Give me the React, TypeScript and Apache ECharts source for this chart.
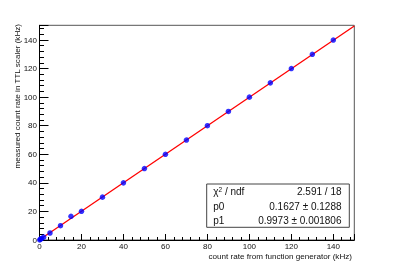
import React, { useEffect, useRef } from "react";
import * as echarts from "echarts";

const xValues = [0.1, 0.5, 1, 2, 5, 10, 15, 20, 30, 40, 50, 60, 70, 80, 90, 100, 110, 120, 130, 140];
const yValues = [0.1, 0.6, 1.1, 2, 4.9, 10, 16.6, 20.1, 30, 40, 50, 60, 70, 80, 90, 100, 110, 120, 130, 140];
const fitP0 = 0.1627;
const fitP1 = 0.9973;
const fitRange = [0, 150];
const xTitle = "count rate from function generator (kHz)";
const yTitle = "measured count rate in TTL scaler (kHz)";
const statsRows = [
  ["{a|χ}{s|2}{a| / ndf}", "2.591 / 18"],
  ["p0", "0.1627 ± 0.1288"],
  ["p1", "0.9973 ± 0.001806"],
];

const FONT = "Liberation Sans, Arial, Helvetica, sans-serif";

export default function App() {
  const ref = useRef<HTMLDivElement>(null);
  useEffect(() => {
    document.body.style.margin = "0";
    const chart = echarts.init(ref.current!, null, { renderer: "svg" });
    const points = xValues.map((x, i) => [x, yValues[i]]);
    const fitLine = fitRange.map((x) => [x, fitP0 + fitP1 * x]);
    const boxX = 206.7, boxY = 184, boxW = 142.6, boxH = 43.3;
    const rowYs = [191.5, 206, 220];
    const graphics: any[] = [
      {
        type: "text", x: 352, y: 256.5,
        style: { text: xTitle, align: "right", verticalAlign: "middle", font: `8.1px ${FONT}`, fill: "#111" },
      },
      {
        type: "text", x: 17, y: 24, rotation: Math.PI / 2,
        style: { text: yTitle, align: "right", verticalAlign: "middle", font: `8.1px ${FONT}`, fill: "#111" },
      },
      {
        type: "rect", shape: { x: boxX, y: boxY, width: boxW, height: boxH },
        style: { fill: "#fff", stroke: "#444", lineWidth: 1 }, z: 100,
      },
    ];
    statsRows.forEach((r, i) => {
      graphics.push({
        type: "text", x: 213.3, y: rowYs[i], z: 101,
        style: {
          text: r[0], align: "left", verticalAlign: "middle", font: `10px ${FONT}`, fill: "#111",
          rich: {
            a: { fontSize: 10, fontFamily: FONT, fill: "#111" },
            s: { fontSize: 6.5, fontFamily: FONT, fill: "#111", verticalAlign: "top", padding: [0, 0, 5, 0] },
          },
        },
      });
      graphics.push({
        type: "text", x: 341.5, y: rowYs[i], z: 101,
        style: { text: r[1], align: "right", verticalAlign: "middle", font: `10px ${FONT}`, fill: "#111" },
      });
    });
    chart.setOption({
      animation: false,
      grid: {
        left: 39.5, right: 39.7, top: 25.3, bottom: 27,
        show: true, borderColor: "#555", borderWidth: 1, backgroundColor: "transparent",
      },
      xAxis: {
        type: "value", min: 0, max: 150, interval: 20,
        axisLine: { lineStyle: { color: "#000", width: 1 } },
        axisTick: { inside: true, length: 6, lineStyle: { color: "#000" } },
        minorTick: { show: true, splitNumber: 5, length: 3, lineStyle: { color: "#000" } },
        splitLine: { show: false },
        axisLabel: { fontSize: 8, fontFamily: FONT, color: "#111", margin: 2.5, showMaxLabel: false },
      },
      yAxis: {
        type: "value", min: 0, max: 150.3, interval: 20,
        axisLine: { lineStyle: { color: "#000", width: 1 } },
        axisTick: { inside: true, length: 9, lineStyle: { color: "#000" } },
        minorTick: { show: true, splitNumber: 5, length: 4.5, lineStyle: { color: "#000" } },
        splitLine: { show: false },
        axisLabel: { fontSize: 8, fontFamily: FONT, color: "#111", margin: 2.5, showMaxLabel: false },
      },
      series: [
        {
          type: "line", data: fitLine, showSymbol: false, symbol: "none",
          lineStyle: { color: "#ff0000", width: 1.3 }, z: 3,
        },
        {
          type: "scatter", data: points, symbol: "circle", symbolSize: 5.5,
          itemStyle: { color: "#0000ff" }, z: 4,
        },
      ],
      graphic: graphics,
    });
    return () => chart.dispose();
  }, []);
  return <div ref={ref} style={{ position: "fixed", left: 0, top: 0, width: 394, height: 267 }} />;
}
